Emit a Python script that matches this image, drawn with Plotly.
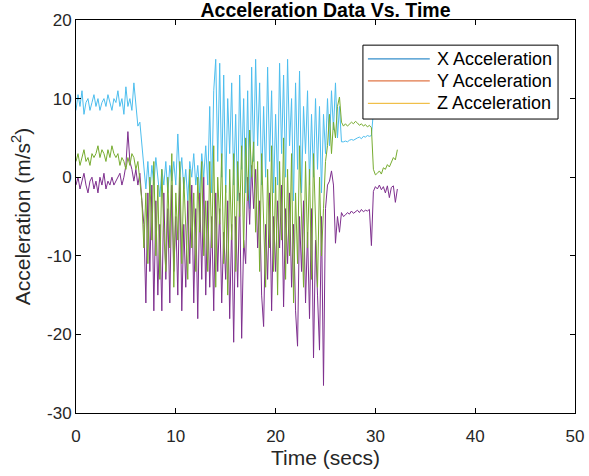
import plotly.graph_objects as go

# sample times (secs), 0.2 s apart
time_s = [round(0.2 * i, 1) for i in range(162)]

accel_x = [
    8.5, 10.5, 9, 11, 8, 9.5, 10, 8.5, 9.5, 10.5,
    9, 10, 8.5, 9.5, 10, 9, 10.5, 9.5, 8.5, 10,
    9.5, 11, 9, 10, 8, 11.5, 9, 10, 8.5, 12,
    9, 6.5, 7, 4, 1, -1.5, 2, -2, 1.5, -1,
    2.5, 0, -2.5, 1, -1, 2, -2, 1.5, -0.5, 2,
    -1, 5.5, 0, 2.5, -1.5, 1, -3, 2, 0, 3,
    -1, 1.5, -2, 3, 0, 4,
    -1, 9, -2, 11, 15, 2, 14.5, 0, 13, -2,
    10, 3, 12, -1, 8, -3, 13, 1, 10, -2,
    11, -4, 14, 2, 15, 4, 12, -1, 9, 0,
    14, 2, 11, -2, 8, -1, 14.5, 3, 13, 0,
    15, 4, 10, -3, 12, 1, 13.5, -2, 9, 3,
    11, -1, 8, 0, 10, 1, 9, -2, 8, 3,
    10, 4, 11, 6, 12, 5, 9, 4.5,
    4.5, 4.6, 4.5, 4.7, 4.8, 4.7, 4.9, 5.0, 5.1, 4.9,
    5.2, 5.1, 5.3, 5.2, 5.3, 8.3,
]

accel_y = [
    -1, 0, -1.5, -0.5, 0.5, -1, -2, -0.5, 0, -1.5,
    -0.5, -2, 0, -1, 0.5, -1.5, -0.5, -1, 0, -1,
    -0.5, 0, 0.5, -1, 0, 1.5, 5.8, 2, 1, -0.5,
    1, -1, 0.5, -3, -6, -16, -2, -12, -1, -17,
    -3, -15, -6, -17, -2, -13, -4, -16, -1, -12,
    -5, -15, 0, -17, -6, -14, -3, -11, -1, -16,
    -4, -18, -2, -13, 0, -15,
    -3, -14, -5, -17, -2, -12, -4, -16, -7, -13,
    -3, -18, -6, -21, -5, -14, -2, -20.5, -8, -11,
    0, -6, 1.5, -4, 1, -9, -3, -15, -19, -6,
    -13, -2, -17, -5, -12, -3, -9, -1, -16.5, -4,
    -11, -2, -14, -6, -17, -21.5, -5, -12, -3, -16,
    -7, -18, -4, -23, -8, -15, -22, -5, -26.5, -4,
    -1, -0.5, 0.8, -1, -8.4, -5, -7, -4.5,
    -5, -4.8, -4.5, -4.7, -4.3, -4.6, -4.4, -4.2, -4.5, -4.1,
    -4.4, -4.2, -4.3, -4.1, -8.7, -1.8,
    -1.2, -1.5, -1, -1.6, -1.2, -2, -1.1, -2.6, -1.3, -1.1,
    -3.2, -1.5,
]

accel_z = [
    2, 3, 1.5, 2.5, 3.5, 2, 2.5, 1.5, 3, 2.5,
    3, 4, 2.5, 3.5, 3, 2, 3.5, 2.5, 4, 3,
    2.5, 3, 1.5, 2.5, 2, 1, 2.5, 1.5, 3, 2.5,
    1, 2, -0.5, -3, -9, -2, -11, 0, -8, 2,
    -10, -1, -13, 1, -7, -12, 0, -9, 3, -14,
    -2, -8, 2, -11, 0, -6, -13, 1, -9, -2,
    -12, 0, -7, 2, -10, -3,
    -12, 2, -9, 4, -14, 0, -6, 3, -11, -1,
    -15, 1, -8, 3, -12, 2, -5, 4, -9, 5,
    -3, 6, 0, 4.5, -7, 2, -12, 3, -5, -14,
    1, -9, 4, -12, 0, -15, 2, -8, 5, -13,
    1, -10, 3, -16, -2, -11, 4, -7, -14, 2,
    -9, 1, -13, 3, -6, -14, 0, -10, -4, 2,
    4, 8, 3, 7, 5, 9, 10.2, 7,
    6.5, 6.8, 6.5, 6.7, 7, 6.8, 7.1, 6.9, 6.6, 6.8,
    6.5, 6.7, 6.4, 6.6, 6.3, 1,
    0.3, 0.5, 0.8, 0.4, 1.2, 1, 1.6, 1.3, 2, 2.5,
    2.2, 3.5,
]

x_ticks = [0, 10, 20, 30, 40, 50]
y_ticks = [-30, -20, -10, 0, 10, 20]
y_ticklabels = ["-30", "-20", "-10", "0", "10", "20"]

series_names = ["X Acceleration", "Y Acceleration", "Z Acceleration"]
line_colors = ["#4DBEEE", "#7E2F8E", "#77AC30"]
legend_colors = ["#0072BD", "#D95319", "#EDB120"]

fig = go.Figure()

for vals, col, name in zip([accel_x, accel_y, accel_z], line_colors, series_names):
    fig.add_trace(go.Scatter(x=time_s[:len(vals)], y=vals, mode="lines", name=name,
                             line=dict(color=col, width=1), showlegend=False))

# legend drawn by hand so it has the same tight MATLAB box
# (its sample lines keep the default colours, like the original figure)
fig.add_shape(type="rect", xref="paper", yref="paper", x0=0.575, x1=0.966,
              y0=0.748, y1=0.936, line=dict(color="black", width=1), fillcolor="white")
leg_rows = [0.901, 0.845, 0.788]
for name, col, yy in zip(series_names, legend_colors, leg_rows):
    fig.add_shape(type="line", xref="paper", yref="paper", x0=0.585, x1=0.709,
                  y0=yy, y1=yy, line=dict(color=col, width=1))
    fig.add_annotation(text=name, xref="paper", yref="paper", x=0.719, y=yy,
                       xanchor="left", yanchor="middle", showarrow=False,
                       font=dict(size=18, color="black"))

axis_style = dict(showline=True, linecolor="black", linewidth=1, mirror="ticks",
                  ticks="inside", ticklen=5, tickcolor="black", showgrid=False,
                  zeroline=False, automargin=False,
                  tickfont=dict(size=17, color="#262626"))

fig.update_layout(
    width=589, height=476,
    margin=dict(l=76, r=14, t=20, b=63),
    paper_bgcolor="white", plot_bgcolor="white",
    font=dict(family="Liberation Sans, Arial, sans-serif", color="#262626"),
    title=dict(text="<b>Acceleration Data Vs. Time</b>", x=0.5, xref="paper",
               xanchor="center", y=0.978, yanchor="middle",
               font=dict(size=19.5, color="black")),
    xaxis=dict(range=[0, 50], tickvals=x_ticks, ticklabelstandoff=8,
               title=dict(text="Time (secs)", font=dict(size=21), standoff=4), **axis_style),
    yaxis=dict(range=[-30, 20], tickvals=y_ticks, ticktext=y_ticklabels,
               title=dict(text="Acceleration (m/s<sup>2</sup>)", font=dict(size=21), standoff=10),
               **axis_style),
    showlegend=False,
)

# drop the page's default 8px body margin so the figure fills the window
fig.write_html("out.html", config={"displayModeBar": False},
               post_script="document.body.style.margin='0';")
